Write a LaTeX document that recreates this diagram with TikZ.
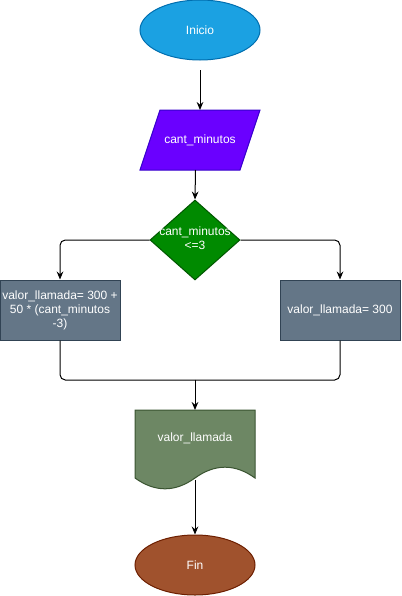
\documentclass[tikz,border=0pt]{standalone}
\usepackage{fontspec}
\setmainfont{Liberation Sans}
\usetikzlibrary{shapes.geometric,arrows.meta}
\definecolor{iniFill}{HTML}{1BA1E2}\definecolor{iniLine}{HTML}{006EAF}
\definecolor{inFill}{HTML}{6A00FF}\definecolor{inLine}{HTML}{3700CC}
\definecolor{decFill}{HTML}{008A00}\definecolor{decLine}{HTML}{005700}
\definecolor{procFill}{HTML}{647687}\definecolor{procLine}{HTML}{314354}
\definecolor{docFill}{HTML}{6D8764}\definecolor{docLine}{HTML}{3A5431}
\definecolor{finFill}{HTML}{A0522D}\definecolor{finLine}{HTML}{6D1F00}
\begin{document}
\begin{tikzpicture}[x=0.75pt,y=-0.75pt,
  txt/.style={text=white,font=\fontsize{9}{10.5}\selectfont,align=center,inner sep=0pt},
  terminal/.style={ellipse,draw,line width=0.75pt,minimum width=90pt,minimum height=45pt,inner sep=0pt,txt},
  procbox/.style={rectangle,draw=procLine,fill=procFill,line width=0.75pt,minimum width=90pt,minimum height=45pt,inner sep=0pt,txt},
  wire/.style={draw=black,line width=0.75pt,rounded corners=4pt},
  flow/.style={wire,-{Stealth[length=6pt,width=5pt,inset=2pt]}}]
\useasboundingbox (0,0) rectangle (402,596);

% start
\node[terminal,draw=iniLine,fill=iniFill] (ini) at (200,30) {Inicio};

% input parallelogram
\filldraw[draw=inLine,fill=inFill,line width=0.75pt]
  (160,110) -- (260,110) -- (240,170) -- (140,170) -- cycle;
\coordinate (inTop) at (200,110);
\coordinate (inBot) at (195.5,170);
\node[txt] (inp) at (200,140) {cant\_minutos};

% decision
\node[diamond,draw=decLine,fill=decFill,line width=0.75pt,minimum width=67.5pt,minimum height=60pt,inner sep=0pt] (dec) at (195,240) {};
\node[txt] (decTxt) at (195,240) {cant\_minutos\\\strut<=3};

% assignments
\node[procbox] (left) at (60,310) {valor\_llamada= 300 +\\50 * (cant\_minutos\\-3)};
\node[procbox] (right) at (340,310) {valor\_llamada= 300};

% output document
\filldraw[draw=docLine,fill=docFill,line width=0.75pt]
  (135,410) -- (255,410) -- (255,478)
  .. controls (235,463.6) and (215,463.6) .. (195,478)
  .. controls (175,492.4) and (155,492.4) .. (135,478) -- cycle;
\coordinate (docTop) at (195,410);
\coordinate (docBot) at (195,480);
\node[txt] (doc) at (195,438) {valor\_llamada};

% end
\node[terminal,draw=finLine,fill=finFill] (fin) at (195,565) {Fin};

% connectors
\coordinate (merge) at (195,380);
\draw[flow] (200,70) -- (inTop);
\draw[flow] (inBot) -- (dec.north);
\draw[flow] (dec.west) -| (left.north);
\draw[flow] (dec.east) -| (right.north);
\draw[wire] (left.south) |- (merge);
\draw[wire] (right.south) |- (merge);
\draw[flow] (merge) -- (docTop);
\draw[flow] (docBot) -- (fin.north);
\end{tikzpicture}
\end{document}
